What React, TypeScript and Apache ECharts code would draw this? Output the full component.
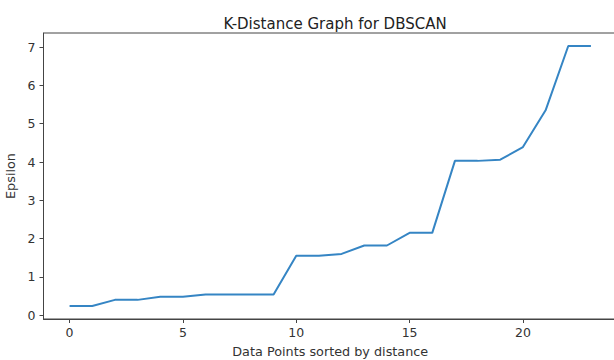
import React, { useEffect, useRef } from "react";
import * as echarts from "echarts";

const pointIndex = [0, 1, 2, 3, 4, 5, 6, 7, 8, 9, 10, 11, 12, 13, 14, 15, 16, 17, 18, 19, 20, 21, 22, 23];
const epsilonValues = [0.24, 0.24, 0.4, 0.4, 0.48, 0.48, 0.54, 0.54, 0.54, 0.54, 1.55, 1.55, 1.6, 1.82, 1.82, 2.15, 2.15, 4.03, 4.03, 4.06, 4.39, 5.35, 7.03, 7.03];
const xTickValues = [0, 5, 10, 15, 20];
const yTickValues = [0, 1, 2, 3, 4, 5, 6, 7];

const titleText = "K-Distance Graph for DBSCAN";
const xAxisTitle = "Data Points sorted by distance";
const yAxisTitle = "Epsilon";

export default function App() {
  const ref = useRef<HTMLDivElement>(null);
  useEffect(() => {
    if (!ref.current) return;
    const chart = echarts.init(ref.current, null, { renderer: "svg" });
    const xMinD = Math.min(...pointIndex);
    const xMaxD = Math.max(...pointIndex);
    const yMinD = Math.min(...epsilonValues);
    const yMaxD = Math.max(...epsilonValues);
    const xr = xMaxD - xMinD;
    const yr = yMaxD - yMinD;
    const font = "DejaVu Sans";
    const textColor = "#333333";
    chart.setOption({
      animation: false,
      title: {
        text: titleText,
        left: 330,
        top: 11,
        textAlign: "center",
        textStyle: { fontFamily: font, fontSize: 15, fontWeight: "normal", color: "#222222" },
      },
      grid: {
        left: 43.5,
        top: 33,
        width: 573.5,
        height: 286,
        outerBoundsMode: "none",
        containLabel: false,
        show: true,
        borderColor: "#444444",
        borderWidth: 1,
        backgroundColor: "transparent",
      },
      xAxis: {
        type: "value",
        min: xMinD - 0.05 * xr,
        max: xMaxD + 0.05 * xr,
        splitLine: { show: false },
        axisLine: { show: true, onZero: false, lineStyle: { color: "#444444", width: 1 } },
        axisTick: { show: true, length: 4, customValues: xTickValues, lineStyle: { color: "#444444" } },
        axisLabel: { customValues: xTickValues, fontFamily: font, fontSize: 12.5, color: textColor, margin: 7 },
        name: xAxisTitle,
        nameLocation: "middle",
        nameGap: 26,
        nameTextStyle: { fontFamily: font, fontSize: 12.8, color: textColor },
      },
      yAxis: {
        type: "value",
        min: yMinD - 0.05 * yr,
        max: yMaxD + 0.05 * yr,
        splitLine: { show: false },
        axisLine: { show: true, onZero: false, lineStyle: { color: "#444444", width: 1 } },
        axisTick: { show: true, length: 4, customValues: yTickValues, lineStyle: { color: "#444444" } },
        axisLabel: { customValues: yTickValues, fontFamily: font, fontSize: 12.5, color: textColor, margin: 8 },
        name: yAxisTitle,
        nameLocation: "middle",
        nameGap: 22,
        nameTextStyle: { fontFamily: font, fontSize: 12.8, color: textColor },
      },
      series: [
        {
          type: "line",
          data: pointIndex.map((x, i) => [x, epsilonValues[i]]),
          showSymbol: false,
          lineStyle: { color: "#3585c4", width: 2 },
        },
      ],
    });
    return () => chart.dispose();
  }, []);
  return (
    <div
      ref={ref}
      style={{ position: "absolute", left: 0, top: 0, width: 614, height: 360, background: "#fff" }}
    />
  );
}
